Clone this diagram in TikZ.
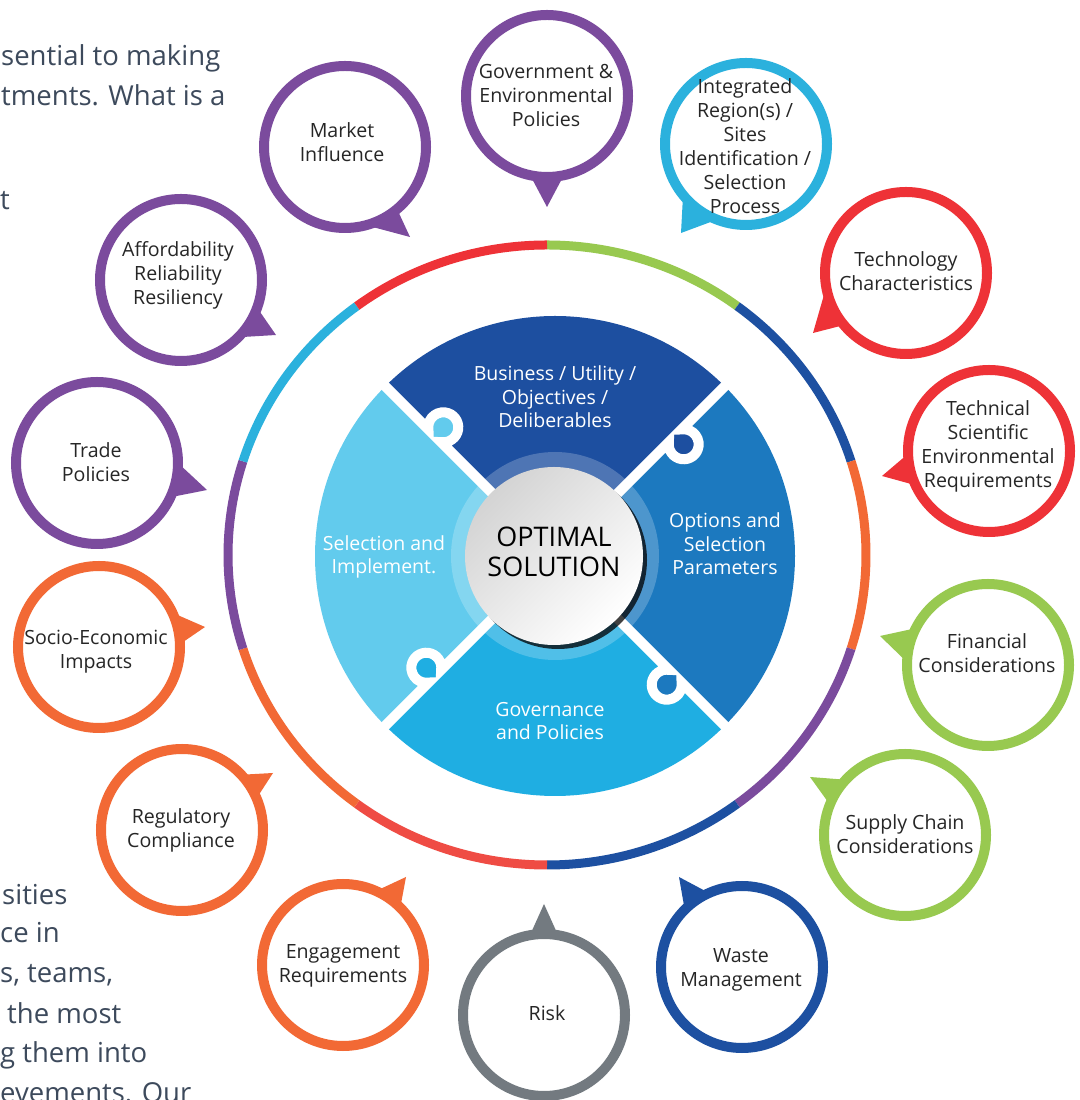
\documentclass[tikz,border=0pt]{standalone}
\usepackage{fontspec}
\setmainfont{Open Sans}
\usetikzlibrary{calc}
\definecolor{cpurple}{HTML}{7B4B9D}
\definecolor{ccyan}{HTML}{2BB1DD}
\definecolor{cred}{HTML}{EE3237}
\definecolor{ccoral}{HTML}{EF4C44}
\definecolor{cgreen}{HTML}{98C950}
\definecolor{cblue}{HTML}{1D50A1}
\definecolor{cgray}{HTML}{737A80}
\definecolor{corange}{HTML}{F26935}
\definecolor{pN}{HTML}{1D4FA0}
\definecolor{pE}{HTML}{1C79BF}
\definecolor{pS}{HTML}{1FAEE2}
\definecolor{pW}{HTML}{62CBED}
\definecolor{bgtext}{HTML}{3D4A5C}
\newcommand\myringarc[3]{\draw[line width=9,#1] ([shift={(547,545)}]#2:319 and 310) arc[start angle=#2,end angle=#3,x radius=319,y radius=310];}
\newcommand\mytail[5]{\fill[#1] (#3) -- ($(#2)+(#4:81)$) -- ($(#2)+(#5:81)$) -- cycle;}
\tikzset{
  bubble/.style={circle,draw=#1,line width=10,fill=white,minimum size=162,inner sep=0},
  btext/.style={font=\fontsize{19.6}{24}\selectfont,align=center,text=black!85},
  ptext/.style={font=\fontsize{19.5}{23.5}\selectfont,align=center,text=white},
  bgline/.style={anchor=base west,font=\fontsize{27.5}{40}\selectfont,text=bgtext,inner sep=0},
}
\begin{document}
\begin{tikzpicture}[x=1pt,y=1pt]
\useasboundingbox (0,0) rectangle (1079,1100);
\clip (0,0) rectangle (1079,1100);
\fill[white] (0,0) rectangle (1079,1100);

% background text
\node[bgline] (l1) at (1,1034) {sential to making};
\node[bgline] (l2) at (1,994) {tments. What is a};
\node[bgline] (l3) at (0,890) {t};
\node[bgline] (l4) at (2,195) {sities};
\node[bgline] (l5) at (0,157) {ce in};
\node[bgline] (l6) at (0,117) {s, teams,};
\node[bgline] (l7) at (7,76) {the most};
\node[bgline] (l8) at (0,37) {g them into};
\node[bgline] (l9) at (0,-2) {evements. Our};

% outer ring
\myringarc{cgreen}{90}{53.4}
\myringarc{cblue}{53.4}{17.6}
\myringarc{corange}{17.6}{-17.6}
\myringarc{cpurple}{-17.6}{-53.4}
\myringarc{cblue}{-53.4}{-90}
\myringarc{ccoral}{-90}{-126.6}
\myringarc{corange}{-126.6}{-162.4}
\myringarc{cpurple}{-162.4}{-197.6}
\myringarc{ccyan}{162.4}{126.6}
\myringarc{cred}{126.6}{90}

% puzzle
\begin{scope}[shift={(555,544)}]
  \fill[pN] (0,0) -- (45:240) arc[start angle=45,end angle=135,radius=240] -- cycle;
  \fill[pW] (0,0) -- (135:240) arc[start angle=135,end angle=225,radius=240] -- cycle;
  \fill[pS] (0,0) -- (225:240) arc[start angle=225,end angle=315,radius=240] -- cycle;
  \fill[pE] (0,0) -- (-45:240) arc[start angle=-45,end angle=45,radius=240] -- cycle;
  \fill[white,opacity=0.22] (0,0) circle[radius=104];
  \foreach \d/\own in {135/pW,45/pN,-45/pE,-135/pS}{
    \begin{scope}[rotate=\d]
      \fill[\own] (170,-12) circle[radius=15];
      \draw[white,line width=10] (60,0) -- (161,0) arc[start angle=126.87,end angle=413.13,radius=15] -- (250,0);
    \end{scope}
  }
\end{scope}
\node[ptext] (pn) at (555,703) {Business / Utility /\\Objectives /\\Deliberables};
\node[ptext] (pe) at (725,556) {Options and\\Selection\\Parameters};
\node[ptext] (ps) at (550,379) {Governance\\and Policies};
\node[ptext] (pw) at (384,543) {Selection and\\Implement.};

% centre
\fill[black,opacity=0.75] (558,540) circle[radius=89];
\shade[top color=black!17,bottom color=white,shading angle=45] (554,544) circle[radius=89];
\node[font=\fontsize{27}{30}\selectfont,align=center] (opt) at (554,548) {OPTIMAL\\SOLUTION};

% bubble centres and tips
\coordinate (c1) at (547,1004);  \coordinate (t1) at (547,893);
\coordinate (c2) at (746,956);   \coordinate (t2) at (681,867);
\coordinate (c3) at (906,827);   \coordinate (t3) at (813,767);
\coordinate (c4) at (989,649);   \coordinate (t4) at (882,624);
\coordinate (c5) at (988,435);   \coordinate (t5) at (880,464);
\coordinate (c6) at (905,265);   \coordinate (t6) at (810,323);
\coordinate (c7) at (742,133);   \coordinate (t7) at (679,223);
\coordinate (c8) at (544,85);    \coordinate (t8) at (544,196);
\coordinate (c9) at (343,135);   \coordinate (t9) at (406,223);
\coordinate (c10) at (182,270);  \coordinate (t10) at (273,327);
\coordinate (c11) at (99,453);   \coordinate (t11) at (205,473);
\coordinate (c12) at (97,637);   \coordinate (t12) at (207,610);
\coordinate (c13) at (181,820);  \coordinate (t13) at (276,765);
\coordinate (c14) at (345,953);  \coordinate (t14) at (410,863);

\mytail{cpurple}{c1}{t1}{-102}{-78}
\mytail{ccyan}{c2}{t2}{-111}{-141}
\mytail{cred}{c3}{t3}{-140}{-170}
\mytail{cred}{c4}{t4}{-155}{-178}
\mytail{cgreen}{c5}{t5}{178}{153}
\mytail{cgreen}{c6}{t6}{158}{137}
\mytail{cblue}{c7}{t7}{135}{114}
\mytail{cgray}{c8}{t8}{80}{100}
\mytail{corange}{c9}{t9}{66}{45}
\mytail{corange}{c10}{t10}{43}{23}
\mytail{corange}{c11}{t11}{25}{2}
\mytail{cpurple}{c12}{t12}{0}{-25}
\mytail{cpurple}{c13}{t13}{-20}{-45}
\mytail{cpurple}{c14}{t14}{-50}{-75}

\node[bubble=cpurple] (b1) at (c1) {};
\node[bubble=ccyan] (b2) at (c2) {};
\node[bubble=cred] (b3) at (c3) {};
\node[bubble=cred] (b4) at (c4) {};
\node[bubble=cgreen] (b5) at (c5) {};
\node[bubble=cgreen] (b6) at (c6) {};
\node[bubble=cblue] (b7) at (c7) {};
\node[bubble=cgray] (b8) at (c8) {};
\node[bubble=corange] (b9) at (c9) {};
\node[bubble=corange] (b10) at (c10) {};
\node[bubble=corange] (b11) at (c11) {};
\node[bubble=cpurple] (b12) at (c12) {};
\node[bubble=cpurple] (b13) at (c13) {};
\node[bubble=cpurple] (b14) at (c14) {};

\node[btext] (x1) at (546,1004) {Government \&\\Environmental\\Policies};
\node[btext] (x2) at (745,954) {Integrated\\Region(s) /\\Sites\\Identification /\\Selection\\Process};
\node[btext] (x3) at (906,828.5) {Technology\\Characteristics};
\node[btext] (x4) at (988,653.5) {Technical\\Scientific\\Environmental\\Requirements};
\node[btext] (x5) at (987,447) {Financial\\Considerations};
\node[btext] (x6) at (905,266) {Supply Chain\\Considerations};
\node[btext] (x7) at (741,130) {Waste\\Management};
\node[btext] (x8) at (547,87) {Risk};
\node[btext] (x9) at (343,134) {Engagement\\Requirements};
\node[btext] (x10) at (181,270) {Regulatory\\Compliance};
\node[btext] (x11) at (96,448) {Socio-Economic\\Impacts};
\node[btext] (x12) at (96,638) {Trade\\Policies};
\node[btext] (x13) at (178,825) {Affordability\\Reliability\\Resiliency};
\node[btext] (x14) at (342,958) {Market\\Influence};
\end{tikzpicture}
\end{document}
